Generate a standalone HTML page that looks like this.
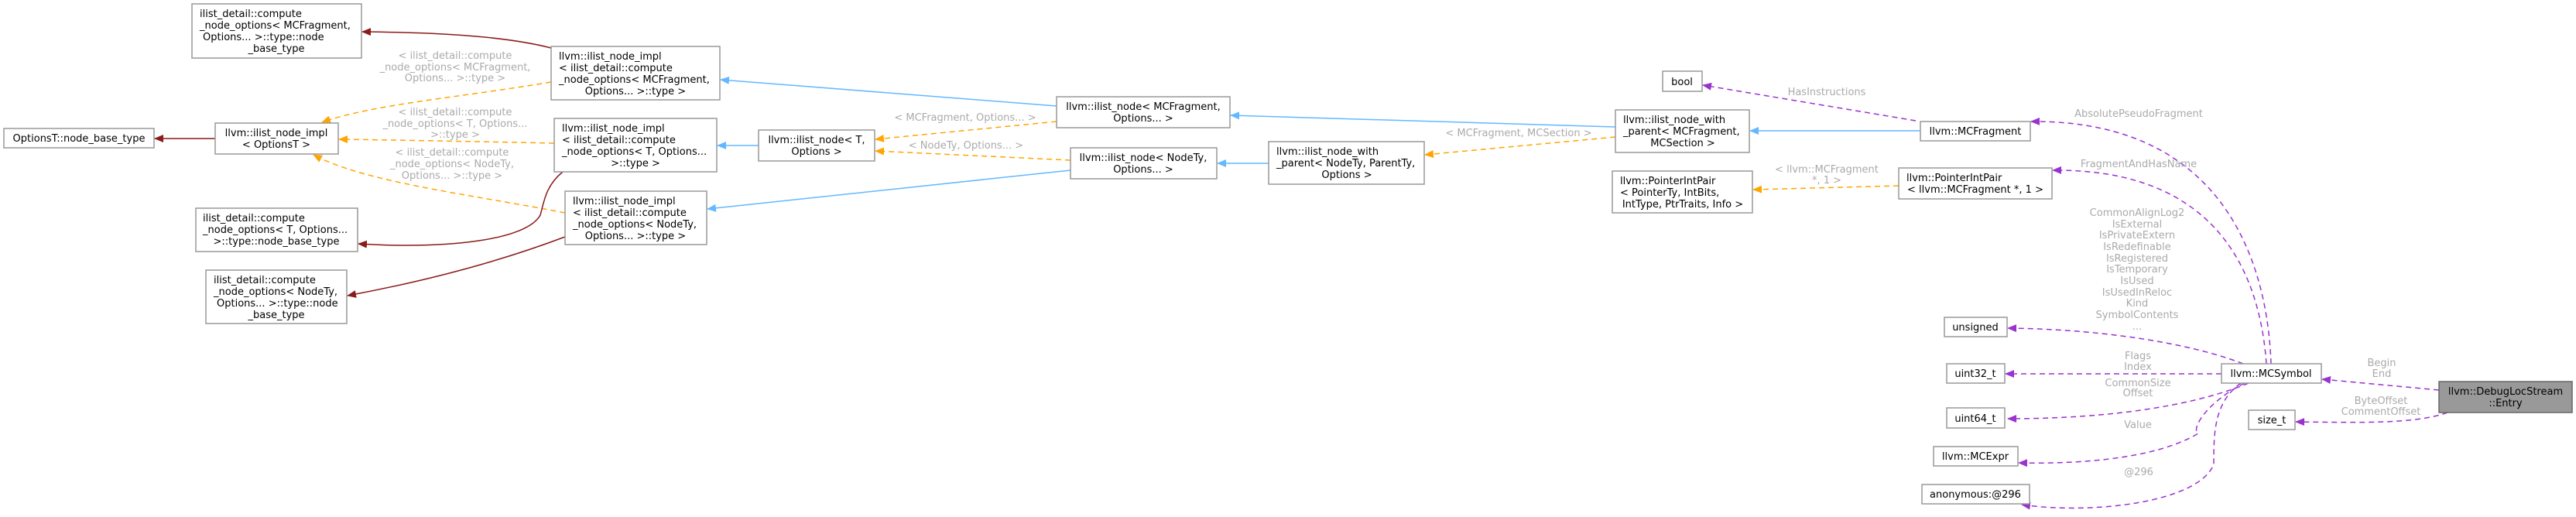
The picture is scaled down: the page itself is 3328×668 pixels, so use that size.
<!DOCTYPE html>
<html><head><meta charset="utf-8"><style>
html,body{margin:0;padding:0;background:#fff;}
svg{display:block;}
text{font-family:"DejaVu Sans","Liberation Sans",sans-serif;font-size:13px;}
.n{fill:#000;}
.l{fill:#aaa;text-anchor:middle;}
.b{fill:#fff;stroke:#999;stroke-width:1.5;}
.red{fill:none;stroke:#8b1a1a;stroke-width:1.5;}
.blu{fill:none;stroke:#63b8ff;stroke-width:1.5;}
.org{fill:none;stroke:#ffa500;stroke-width:1.5;stroke-dasharray:7,5;}
.pur{fill:none;stroke:#9a32cd;stroke-width:1.5;stroke-dasharray:7,5;}
</style></head><body>
<svg width="3328" height="668" viewBox="0 0 3328 668" xmlns="http://www.w3.org/2000/svg">
<defs>
<marker id="mr" markerWidth="12" markerHeight="10" refX="11" refY="5" orient="auto" markerUnits="userSpaceOnUse"><path d="M0,0 L12,5 L0,10 z" fill="#8b1a1a"/></marker>
<marker id="mb" markerWidth="12" markerHeight="10" refX="11" refY="5" orient="auto" markerUnits="userSpaceOnUse"><path d="M0,0 L12,5 L0,10 z" fill="#63b8ff"/></marker>
<marker id="mo" markerWidth="12" markerHeight="10" refX="11" refY="5" orient="auto" markerUnits="userSpaceOnUse"><path d="M0,0 L12,5 L0,10 z" fill="#ffa500"/></marker>
<marker id="mp" markerWidth="12" markerHeight="10" refX="11" refY="5" orient="auto" markerUnits="userSpaceOnUse"><path d="M0,0 L12,5 L0,10 z" fill="#9a32cd"/></marker>
</defs>

<!-- edges -->
<path class="red" marker-end="url(#mr)" d="M712,62 C650,46 560,42 468,41"/>
<path class="org" marker-end="url(#mo)" d="M712,106 C600,125 480,135 416,158"/>
<path class="org" marker-end="url(#mo)" d="M716,185 C620,183 520,181 438,180"/>
<path class="org" marker-end="url(#mo)" d="M730,275 C600,250 470,235 405,200"/>
<path class="red" marker-end="url(#mr)" d="M278,179 L200,179"/>
<path class="red" marker-end="url(#mr)" d="M727,222 C705,240 703,260 698,278 C680,310 580,322 463,315"/>
<path class="red" marker-end="url(#mr)" d="M730,306 C640,340 540,365 449,382"/>
<path class="blu" marker-end="url(#mb)" d="M1365,137 L931,103"/>
<path class="blu" marker-end="url(#mb)" d="M980,188 L927,188"/>
<path class="blu" marker-end="url(#mb)" d="M1383,220 L914,270"/>
<path class="org" marker-end="url(#mo)" d="M1365,157 L1131,180"/>
<path class="org" marker-end="url(#mo)" d="M1383,207 L1131,195"/>
<path class="blu" marker-end="url(#mb)" d="M1639,211 L1573,211"/>
<path class="blu" marker-end="url(#mb)" d="M2087,164 L1590,149"/>
<path class="org" marker-end="url(#mo)" d="M2087,177 L1841,200"/>
<path class="blu" marker-end="url(#mb)" d="M2481,169 L2261,169"/>
<path class="pur" marker-end="url(#mp)" d="M2475,156 L2200,110"/>
<path class="pur" marker-end="url(#mp)" d="M2934,470 C2930,350 2880,155 2624,157"/>
<path class="pur" marker-end="url(#mp)" d="M2928,470 C2920,360 2870,218 2652,220"/>
<path class="org" marker-end="url(#mo)" d="M2453,240 L2265,245"/>
<path class="pur" marker-end="url(#mp)" d="M2898,470 C2820,440 2700,425 2594,424"/>
<path class="pur" marker-end="url(#mp)" d="M2870,483 L2591,483"/>
<path class="pur" marker-end="url(#mp)" d="M2905,495 C2820,530 2700,541 2594,541"/>
<path class="pur" marker-end="url(#mp)" d="M2900,495 C2850,520 2830,555 2840,560 C2790,590 2700,600 2608,598"/>
<path class="pur" marker-end="url(#mp)" d="M2895,495 C2860,520 2860,560 2860,600 C2840,650 2700,665 2612,652"/>
<path class="pur" marker-end="url(#mp)" d="M3151,504 L3000,490"/>
<path class="pur" marker-end="url(#mp)" d="M3162,533 C3120,548 3050,546 2966,545"/>

<!-- edge labels -->
<text class="l" x="588" y="76">&lt; ilist_detail::compute</text>
<text class="l" x="588" y="91">_node_options&lt; MCFragment,</text>
<text class="l" x="588" y="105">Options... &gt;::type &gt;</text>
<text class="l" x="588" y="149">&lt; ilist_detail::compute</text>
<text class="l" x="588" y="164">_node_options&lt; T, Options...</text>
<text class="l" x="588" y="178">&gt;::type &gt;</text>
<text class="l" x="584" y="201">&lt; ilist_detail::compute</text>
<text class="l" x="584" y="216">_node_options&lt; NodeTy,</text>
<text class="l" x="584" y="231">Options... &gt;::type &gt;</text>
<text class="l" x="1247" y="156">&lt; MCFragment, Options... &gt;</text>
<text class="l" x="1248" y="192">&lt; NodeTy, Options... &gt;</text>
<text class="l" x="1962" y="176">&lt; MCFragment, MCSection &gt;</text>
<text class="l" x="2360" y="123">HasInstructions</text>
<text class="l" x="2763" y="151">AbsolutePseudoFragment</text>
<text class="l" x="2763" y="216">FragmentAndHasName</text>
<text class="l" x="2360" y="223">&lt; llvm::MCFragment</text>
<text class="l" x="2360" y="237">*, 1 &gt;</text>
<text class="l" x="2761" y="279">CommonAlignLog2</text>
<text class="l" x="2761" y="294">IsExternal</text>
<text class="l" x="2761" y="308">IsPrivateExtern</text>
<text class="l" x="2761" y="323">IsRedefinable</text>
<text class="l" x="2761" y="338">IsRegistered</text>
<text class="l" x="2761" y="352">IsTemporary</text>
<text class="l" x="2761" y="367">IsUsed</text>
<text class="l" x="2761" y="382">IsUsedInReloc</text>
<text class="l" x="2761" y="396">Kind</text>
<text class="l" x="2761" y="411">SymbolContents</text>
<text class="l" x="2761" y="426">...</text>
<text class="l" x="2762" y="464">Flags</text>
<text class="l" x="2762" y="478">Index</text>
<text class="l" x="2762" y="499">CommonSize</text>
<text class="l" x="2762" y="512">Offset</text>
<text class="l" x="2762" y="553">Value</text>
<text class="l" x="2763" y="614">@296</text>
<text class="l" x="3077" y="473">Begin</text>
<text class="l" x="3077" y="487">End</text>
<text class="l" x="3076" y="522">ByteOffset</text>
<text class="l" x="3076" y="536">CommentOffset</text>

<!-- nodes -->
<rect class="b" x="248" y="5" width="219" height="70"/>
<text class="n" x="258" y="22">ilist_detail::compute</text>
<text class="n" x="258" y="37">_node_options&lt; MCFragment,</text>
<text class="n" x="262" y="52">Options... &gt;::type::node</text>
<text class="n" x="357" y="67" text-anchor="middle">_base_type</text>

<rect class="b" x="5" y="166" width="194" height="25"/>
<text class="n" x="102" y="183" text-anchor="middle">OptionsT::node_base_type</text>

<rect class="b" x="278" y="159" width="159" height="40"/>
<text class="n" x="357" y="176" text-anchor="middle">llvm::ilist_node_impl</text>
<text class="n" x="357" y="191" text-anchor="middle">&lt; OptionsT &gt;</text>

<rect class="b" x="253" y="269" width="209" height="56"/>
<text class="n" x="262" y="286">ilist_detail::compute</text>
<text class="n" x="262" y="301">_node_options&lt; T, Options...</text>
<text class="n" x="357" y="316" text-anchor="middle">&gt;::type::node_base_type</text>

<rect class="b" x="266" y="349" width="182" height="69"/>
<text class="n" x="276" y="366">ilist_detail::compute</text>
<text class="n" x="276" y="381">_node_options&lt; NodeTy,</text>
<text class="n" x="280" y="396">Options... &gt;::type::node</text>
<text class="n" x="357" y="411" text-anchor="middle">_base_type</text>

<rect class="b" x="712" y="60" width="218" height="69"/>
<text class="n" x="722" y="77">llvm::ilist_node_impl</text>
<text class="n" x="722" y="92">&lt; ilist_detail::compute</text>
<text class="n" x="722" y="107">_node_options&lt; MCFragment,</text>
<text class="n" x="821" y="122" text-anchor="middle">Options... &gt;::type &gt;</text>

<rect class="b" x="716" y="153" width="210" height="69"/>
<text class="n" x="726" y="170">llvm::ilist_node_impl</text>
<text class="n" x="726" y="185">&lt; ilist_detail::compute</text>
<text class="n" x="726" y="200">_node_options&lt; T, Options...</text>
<text class="n" x="821" y="215" text-anchor="middle">&gt;::type &gt;</text>

<rect class="b" x="730" y="247" width="183" height="69"/>
<text class="n" x="740" y="264">llvm::ilist_node_impl</text>
<text class="n" x="740" y="279">&lt; ilist_detail::compute</text>
<text class="n" x="740" y="294">_node_options&lt; NodeTy,</text>
<text class="n" x="821" y="309" text-anchor="middle">Options... &gt;::type &gt;</text>

<rect class="b" x="980" y="168" width="150" height="40"/>
<text class="n" x="1055" y="185" text-anchor="middle">llvm::ilist_node&lt; T,</text>
<text class="n" x="1055" y="200" text-anchor="middle">Options &gt;</text>

<rect class="b" x="1365" y="125" width="224" height="40"/>
<text class="n" x="1477" y="142" text-anchor="middle">llvm::ilist_node&lt; MCFragment,</text>
<text class="n" x="1477" y="157" text-anchor="middle">Options... &gt;</text>

<rect class="b" x="1383" y="191" width="189" height="40"/>
<text class="n" x="1477" y="208" text-anchor="middle">llvm::ilist_node&lt; NodeTy,</text>
<text class="n" x="1477" y="223" text-anchor="middle">Options... &gt;</text>

<rect class="b" x="1639" y="183" width="201" height="55"/>
<text class="n" x="1649" y="200">llvm::ilist_node_with</text>
<text class="n" x="1649" y="215">_parent&lt; NodeTy, ParentTy,</text>
<text class="n" x="1740" y="230" text-anchor="middle">Options &gt;</text>

<rect class="b" x="2087" y="142" width="173" height="55"/>
<text class="n" x="2097" y="159">llvm::ilist_node_with</text>
<text class="n" x="2097" y="174">_parent&lt; MCFragment,</text>
<text class="n" x="2174" y="189" text-anchor="middle">MCSection &gt;</text>

<rect class="b" x="2148" y="92" width="51" height="26"/>
<text class="n" x="2173" y="110" text-anchor="middle">bool</text>

<rect class="b" x="2481" y="157" width="142" height="25"/>
<text class="n" x="2552" y="174" text-anchor="middle">llvm::MCFragment</text>

<rect class="b" x="2083" y="221" width="181" height="54"/>
<text class="n" x="2093" y="238">llvm::PointerIntPair</text>
<text class="n" x="2093" y="253">&lt; PointerTy, IntBits,</text>
<text class="n" x="2174" y="268" text-anchor="middle">IntType, PtrTraits, Info &gt;</text>

<rect class="b" x="2453" y="217" width="198" height="40"/>
<text class="n" x="2463" y="234">llvm::PointerIntPair</text>
<text class="n" x="2552" y="249" text-anchor="middle">&lt; llvm::MCFragment *, 1 &gt;</text>

<rect class="b" x="2512" y="410" width="81" height="25"/>
<text class="n" x="2552" y="427" text-anchor="middle">unsigned</text>
<rect class="b" x="2515" y="470" width="75" height="25"/>
<text class="n" x="2552" y="487" text-anchor="middle">uint32_t</text>
<rect class="b" x="2515" y="527" width="75" height="26"/>
<text class="n" x="2552" y="545" text-anchor="middle">uint64_t</text>
<rect class="b" x="2498" y="577" width="109" height="25"/>
<text class="n" x="2552" y="594" text-anchor="middle">llvm::MCExpr</text>
<rect class="b" x="2483" y="626" width="139" height="25"/>
<text class="n" x="2552" y="643" text-anchor="middle">anonymous:@296</text>

<rect class="b" x="2870" y="470" width="129" height="25"/>
<text class="n" x="2934" y="487" text-anchor="middle">llvm::MCSymbol</text>
<rect class="b" x="2905" y="530" width="60" height="25"/>
<text class="n" x="2935" y="547" text-anchor="middle">size_t</text>

<rect x="3151" y="493" width="172" height="40" fill="#999" stroke="#666" stroke-width="1.5"/>
<text class="n" x="3237" y="510" text-anchor="middle">llvm::DebugLocStream</text>
<text class="n" x="3237" y="525" text-anchor="middle">::Entry</text>
</svg>
</body></html>
